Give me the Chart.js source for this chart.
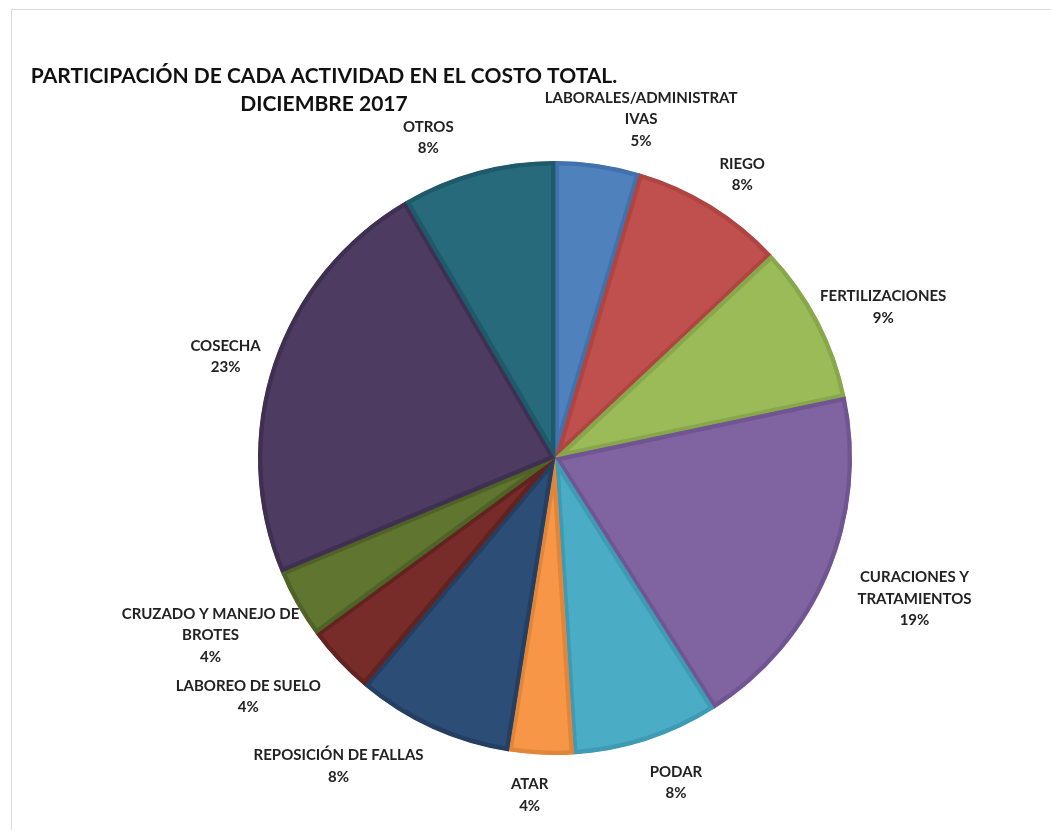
<!DOCTYPE html>
<html>
<head>
<meta charset="utf-8">
<script src="https://cdn.jsdelivr.net/npm/chart.js@4"></script>
<style>
  html, body { margin: 0; padding: 0; background: #fff; }
  #wrap { width: 1051px; height: 830px; position: relative; }
</style>
</head>
<body>
<div id="wrap"><canvas id="myChart" width="1051" height="830"></canvas></div>
<script>
// categories, clockwise from 12 o'clock
const labels = ['LABORALES/ADMINISTRATIVAS', 'RIEGO', 'FERTILIZACIONES', 'CURACIONES Y TRATAMIENTOS',
  'PODAR', 'ATAR', 'REPOSICIÓN DE FALLAS', 'LABOREO DE SUELO', 'CRUZADO Y MANEJO DE BROTES', 'COSECHA', 'OTROS'];
// how Excel wrapped each label
const labelLines = [['LABORALES/ADMINISTRAT', 'IVAS'], ['RIEGO'], ['FERTILIZACIONES'], ['CURACIONES Y', 'TRATAMIENTOS'],
  ['PODAR'], ['ATAR'], ['REPOSICIÓN DE FALLAS'], ['LABOREO DE SUELO'], ['CRUZADO Y MANEJO DE', 'BROTES'], ['COSECHA'], ['OTROS']];
// share of total cost (%)
const values = [4.6, 8.4, 8.7, 19.3, 8.0, 3.5, 8.6, 3.8, 3.8, 22.9, 8.4];
// percentages printed on the chart
const shownPct = ['5%', '8%', '9%', '19%', '8%', '4%', '8%', '4%', '4%', '23%', '8%'];

const fills = ['#4F81BD', '#C0504D', '#9BBB59', '#8064A2', '#4BACC6', '#F79646',
  '#2C4D75', '#772C2A', '#5F7530', '#4D3B62', '#276A7C'];
const edges = ['#4272AD', '#AE4542', '#88A74A', '#705592', '#3F9AB3', '#E0853A',
  '#243F62', '#622320', '#4F6327', '#3F3052', '#1F5A6A'];

// small hand nudges to mimic Excel's label placement
const labelNudge = [[28, -3], [14, -4], [0, 1], [24, 9], [18, 12], [-10, 9], [-54, 9], [-30, 14], [0, 10], [-5, 3], [-40, -3]];

const frameAndTitle = {
  id: 'frameAndTitle',
  beforeDraw(chart) {
    const c = chart.ctx;
    c.save();
    c.strokeStyle = '#d9d9d9';
    c.lineWidth = 1;
    c.strokeRect(11.5, 9.5, 1100, 900);
    c.fillStyle = '#111';
    c.font = 'bold 21px Lato';
    c.textBaseline = 'middle';
    c.textAlign = 'center';
    c.fillText('PARTICIPACIÓN DE CADA ACTIVIDAD EN EL COSTO TOTAL.', 324, 76);
    c.fillText('DICIEMBRE 2017', 324, 104);
    c.restore();
  }
};

const outsideLabels = {
  id: 'outsideLabels',
  afterDatasetsDraw(chart) {
    const c = chart.ctx;
    const meta = chart.getDatasetMeta(0);
    c.save();
    c.font = 'bold 15px Lato';
    c.fillStyle = '#222';
    c.textAlign = 'center';
    c.textBaseline = 'middle';
    const lh = 21.5;
    meta.data.forEach((arc, i) => {
      const p = arc.getProps(['x', 'y', 'startAngle', 'endAngle', 'outerRadius'], true);
      const mid = (p.startAngle + p.endAngle) / 2;
      const lines = labelLines[i].concat([shownPct[i]]);
      const w = Math.max(...lines.map(t => c.measureText(t).width));
      const h = lines.length * lh;
      const r = p.outerRadius + 10;
      const cx = p.x + Math.cos(mid) * r + Math.cos(mid) * w / 2 + labelNudge[i][0];
      const cy = p.y + Math.sin(mid) * r + Math.sin(mid) * h / 2 + labelNudge[i][1];
      lines.forEach((t, k) => {
        c.fillText(t, cx, cy - h / 2 + lh / 2 + k * lh);
      });
    });
    c.restore();
  }
};

var ctx = document.getElementById('myChart').getContext('2d');
var chart = new Chart(ctx, {
  type: 'pie',
  data: {
    labels: labels,
    datasets: [{
      data: values,
      backgroundColor: fills,
      borderColor: edges,
      borderWidth: 4,
      borderAlign: 'inner',
      hoverBorderWidth: 0
    }]
  },
  options: {
    responsive: false,
    animation: false,
    layout: { padding: { top: 161, bottom: 75, left: 258, right: 199 } },
    plugins: {
      legend: { display: false },
      tooltip: { enabled: false },
      title: { display: false }
    }
  },
  plugins: [frameAndTitle, outsideLabels]
});
</script>
</body>
</html>
